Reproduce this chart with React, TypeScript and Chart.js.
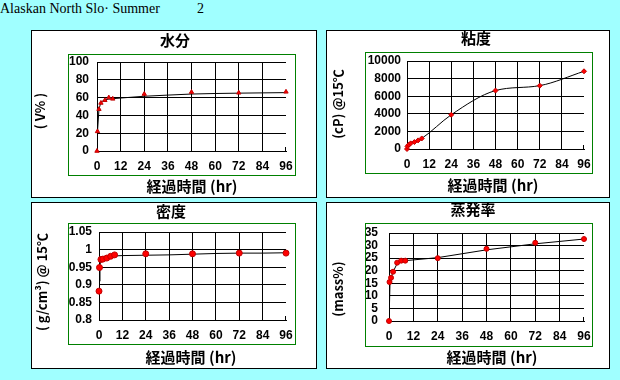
import React, { useEffect, useRef } from "react";
import { Chart, registerables } from "chart.js";

Chart.register(...registerables);

// ---------------- data ----------------
const HEADER_TEXT = "Alaskan North Slo\u00b7 Summer";
const HEADER_SUFFIX = "2";

const X_TITLE = "経過時間 (hr)";
const X_TICKS = [0, 12, 24, 36, 48, 60, 72, 84, 96];
const X_TICK_LABELS = ["0", "12", "24", "36", "48", "60", "72", "84", "96"];

const HOURS = [0, 0.25, 1, 2, 4, 6, 8, 24, 48, 72, 96];

// 水分
const WATER_TITLE = "水分";
const WATER_Y_TITLE = "( V% )";
const WATER = [0, 22, 47, 54, 57, 60, 58.6, 64, 66.2, 65.4, 66.5];
const WATER_FIT_HOURS = [0, 0.25, 1, 2, 4, 6, 8, 12, 24, 36, 48, 60, 72, 84, 96];
const WATER_FIT = [0, 22, 47, 55, 57.5, 58.3, 58.8, 59.5, 61.5, 62.8, 64, 64.6, 65, 65.3, 65.6];
const WATER_TICKS = [0, 20, 40, 60, 80, 100];
const WATER_TICK_LABELS = ["0", "20", "40", "60", "80", "100"];

// 粘度
const VISC_TITLE = "粘度";
const VISC_Y_TITLE = "(cP) @15℃";
const VISC = [0, 300, 490, 640, 790, 980, 1200, 3890, 6640, 7200, 8830];
const VISC_TICKS = [0, 2000, 4000, 6000, 8000, 10000];
const VISC_TICK_LABELS = ["0", "2000", "4000", "6000", "8000", "10000"];

// 密度
const DENS_TITLE = "密度";
const DENS_Y_TITLE = "( g/cm³) @ 15℃";
const DENS = [0.882, 0.949, 0.972, 0.973, 0.976, 0.981, 0.985, 0.988, 0.988, 0.99, 0.99];
const DENS_FIT_HOURS = [0.25, 0.5, 1, 2, 4, 8, 12, 24, 36, 48, 60, 72, 84, 96];
const DENS_FIT = [0.91, 0.955, 0.972, 0.975, 0.978, 0.982, 0.983, 0.984, 0.985, 0.987, 0.989, 0.99, 0.99, 0.991];
const DENS_TICKS = [0.8, 0.85, 0.9, 0.95, 1, 1.05];
const DENS_TICK_LABELS = ["0.8", "0.85", "0.9", "0.95", "1", "1.05"];

// 蒸発率
const EVAP_TITLE = "蒸発率";
const EVAP_Y_TITLE = "(mass%)";
const EVAP = [0, 15.5, 17.2, 19.6, 23.2, 24.0, 24.0, 25.0, 28.7, 31.1, 32.6];
const EVAP_FIT_HOURS = [0.25, 0.5, 1, 2, 4, 6, 8, 24, 48, 72, 96];
const EVAP_FIT = [7, 15.5, 17.2, 19.6, 22.8, 23.6, 24.0, 25.2, 28.3, 30.7, 32.6];
const EVAP_TICKS = [0, 5, 10, 15, 20, 25, 30, 35];
const EVAP_TICK_LABELS = ["0", "5", "10", "15", "20", "25", "30", "35"];

// ---------------- styling ----------------
const TICK_FONT = { family: "'Liberation Sans', Arial, sans-serif", weight: "bold" as const, size: 12 };
const CJK = "'Noto Sans CJK JP', 'Liberation Sans', sans-serif";

const decorPlugin = {
  id: "decor",
  afterDraw(chart: any, _args: any, opts: any) {
    const ctx = chart.ctx as CanvasRenderingContext2D;
    const { green, title, xTitle, yTitle } = opts;
    ctx.save();
    ctx.strokeStyle = "#008000";
    ctx.lineWidth = 1;
    ctx.strokeRect(green[0] + 0.5, green[1] + 0.5, green[2] - green[0], green[3] - green[1]);
    // small end tick on x axis
    const ca = chart.chartArea;
    const xe = Math.round(chart.scales.x.getPixelForValue(96)) - 0.5;
    ctx.strokeStyle = "#000";
    ctx.beginPath();
    ctx.moveTo(xe, Math.round(ca.bottom));
    ctx.lineTo(xe, Math.round(ca.bottom) - 4);
    ctx.stroke();

    ctx.fillStyle = "#000";
    ctx.textAlign = "center";
    ctx.textBaseline = "middle";
    ctx.font = `bold 15px ${CJK}`;
    ctx.fillText(title[0], title[1], title[2]);
    ctx.font = `bold 15px ${CJK}`;
    ctx.fillText(xTitle[0], xTitle[1], xTitle[2]);
    ctx.font = `bold 13px ${CJK}`;
    ctx.translate(yTitle[1], yTitle[2]);
    ctx.rotate(-Math.PI / 2);
    ctx.fillText(yTitle[0], 0, 0);
    ctx.restore();
  },
};

type PanelSpec = {
  left: number;
  top: number;
  width: number;
  height: number;
  area: { left: number; right: number; top: number; bottom: number };
  green: number[];
  title: string;
  titlePos: number[];
  xTitlePos: number[];
  yTitle: string;
  yTitlePos: number[];
  yPad: number;
  yTicks: number[];
  yLabels: string[];
  hours: number[];
  values: number[];
  fitHours?: number[];
  fitValues?: number[];
  pointStyle: string;
  pointRadius: number;
  smooth?: boolean;
};

function makeConfig(p: PanelSpec): any {
  const W = p.width - 2;
  const H = p.height - 2;
  const measured = p.hours.map((h, i) => ({ x: h, y: p.values[i] }));
  const datasets: any[] = [];
  datasets.push({
    data: measured,
    showLine: !!p.smooth,
    borderColor: "#000",
    borderWidth: 1,
    cubicInterpolationMode: p.smooth ? "monotone" : "default",
    tension: p.smooth ? 0.4 : 0,
    pointStyle: p.pointStyle,
    pointRadius: p.pointRadius,
    pointBackgroundColor: "#ff0000",
    pointBorderColor: "#c00000",
    pointBorderWidth: 1,
    clip: false,
    order: 0,
  });
  if (p.fitHours && p.fitValues) {
    const fv = p.fitValues;
    datasets.push({
      data: p.fitHours.map((h, i) => ({ x: h, y: fv[i] })),
      borderColor: "#000",
      borderWidth: 1,
      pointRadius: 0,
      tension: 0,
      fill: false,
      clip: false,
      order: 1,
    });
  }
  const yMin = p.yTicks[0];
  const yMax = p.yTicks[p.yTicks.length - 1];
  return {
    type: "line",
    data: { datasets },
    options: {
      animation: false,
      responsive: false,
      maintainAspectRatio: false,
      events: [],
      layout: { padding: { left: 0, top: p.area.top, right: W - p.area.right, bottom: 0 } },
      plugins: {
        legend: { display: false },
        tooltip: { enabled: false },
        title: { display: false },
        decor: {
          green: p.green,
          title: [p.title, p.titlePos[0], p.titlePos[1]],
          xTitle: [X_TITLE, p.xTitlePos[0], p.xTitlePos[1]],
          yTitle: [p.yTitle, p.yTitlePos[0], p.yTitlePos[1]],
        },
      },
      scales: {
        x: {
          type: "linear",
          position: "bottom",
          min: 0,
          max: 96,
          afterBuildTicks: (s: any) => {
            s.ticks = X_TICKS.map((v) => ({ value: v }));
          },
          afterFit: (s: any) => {
            s.height = H - p.area.bottom;
            s.paddingLeft = 0;
            s.paddingRight = 0;
            s.paddingTop = 0;
            s.paddingBottom = 0;
          },
          ticks: {
            callback: (_v: any, i: number) => X_TICK_LABELS[i],
            autoSkip: false,
            maxRotation: 0,
            minRotation: 0,
            padding: 8,
            color: "#000",
            font: TICK_FONT,
          },
          grid: {
            color: (c: any) => (c.tick && c.tick.value === 96 ? "rgba(0,0,0,0)" : "#000"),
            drawTicks: false,
            lineWidth: 1,
          },
          border: { display: true, color: "#000", width: 1 },
        },
        y: {
          type: "linear",
          position: "left",
          min: yMin,
          max: yMax,
          afterBuildTicks: (s: any) => {
            s.ticks = p.yTicks.map((v) => ({ value: v }));
          },
          afterFit: (s: any) => {
            s.width = p.area.left;
            s.paddingLeft = 0;
            s.paddingRight = 0;
            s.paddingTop = 0;
            s.paddingBottom = 0;
          },
          ticks: {
            callback: (_v: any, i: number) => p.yLabels[i],
            autoSkip: false,
            padding: p.yPad,
            color: "#000",
            font: TICK_FONT,
          },
          grid: { color: "#000", drawTicks: false, lineWidth: 1 },
          border: { display: true, color: "#000", width: 1 },
        },
      },
    },
    plugins: [decorPlugin],
  };
}

const PANELS: PanelSpec[] = [
  {
    left: 31, top: 30, width: 286, height: 168,
    area: { left: 65, right: 254, top: 31, bottom: 120 },
    green: [36, 23, 263, 144],
    title: WATER_TITLE, titlePos: [143, 9],
    xTitlePos: [160, 155],
    yTitle: WATER_Y_TITLE, yTitlePos: [8, 80],
    yPad: 8,
    yTicks: WATER_TICKS, yLabels: WATER_TICK_LABELS,
    hours: HOURS, values: WATER,
    fitHours: WATER_FIT_HOURS, fitValues: WATER_FIT,
    pointStyle: "triangle", pointRadius: 2.5,
  },
  {
    left: 326, top: 30, width: 284, height: 168,
    area: { left: 80, right: 257, top: 30, bottom: 118 },
    green: [38, 21, 265, 142],
    title: VISC_TITLE, titlePos: [149, 7],
    xTitlePos: [166, 154],
    yTitle: VISC_Y_TITLE, yTitlePos: [11, 73],
    yPad: 6,
    yTicks: VISC_TICKS, yLabels: VISC_TICK_LABELS,
    hours: HOURS, values: VISC,
    pointStyle: "rectRot", pointRadius: 2.5,
    smooth: true,
  },
  {
    left: 31, top: 202, width: 286, height: 167,
    area: { left: 67, right: 254, top: 29, bottom: 117 },
    green: [36, 20, 263, 141],
    title: DENS_TITLE, titlePos: [139, 8],
    xTitlePos: [159, 154],
    yTitle: DENS_Y_TITLE, yTitlePos: [10, 79],
    yPad: 7,
    yTicks: DENS_TICKS, yLabels: DENS_TICK_LABELS,
    hours: HOURS, values: DENS,
    fitHours: DENS_FIT_HOURS, fitValues: DENS_FIT,
    pointStyle: "circle", pointRadius: 3,
  },
  {
    left: 326, top: 202, width: 284, height: 167,
    area: { left: 62, right: 257, top: 30, bottom: 118 },
    green: [38, 20, 265, 143],
    title: EVAP_TITLE, titlePos: [146, 6],
    xTitlePos: [165, 154],
    yTitle: EVAP_Y_TITLE, yTitlePos: [11, 86],
    yPad: 11,
    yTicks: EVAP_TICKS, yLabels: EVAP_TICK_LABELS,
    hours: HOURS, values: EVAP,
    fitHours: EVAP_FIT_HOURS, fitValues: EVAP_FIT,
    pointStyle: "circle", pointRadius: 2.5,
  },
];

function Panel({ spec }: { spec: PanelSpec }) {
  const ref = useRef<HTMLCanvasElement>(null);
  useEffect(() => {
    if (!ref.current) return;
    const chart = new Chart(ref.current, makeConfig(spec));
    return () => chart.destroy();
  }, [spec]);
  const w = spec.width - 2;
  const h = spec.height - 2;
  return (
    <div
      style={{
        position: "absolute",
        left: spec.left,
        top: spec.top,
        width: spec.width,
        height: spec.height,
        boxSizing: "border-box",
        border: "1px solid #000",
        background: "#fff",
      }}
    >
      <canvas ref={ref} width={w} height={h} style={{ display: "block", width: w, height: h }} />
    </div>
  );
}

export default function App() {
  return (
    <div
      style={{
        position: "fixed",
        left: 0,
        top: 0,
        width: 620,
        height: 380,
        background: "#a0ffff",
        overflow: "hidden",
        fontFamily: "'Liberation Serif', 'Times New Roman', serif",
      }}
    >
      <div style={{ position: "absolute", left: 0, top: 1, fontSize: 14, lineHeight: "16px", whiteSpace: "pre", color: "#000" }}>
        {HEADER_TEXT}
      </div>
      <div style={{ position: "absolute", left: 197, top: 1, fontSize: 14, lineHeight: "16px", color: "#000" }}>
        {HEADER_SUFFIX}
      </div>
      {PANELS.map((p, i) => (
        <Panel key={i} spec={p} />
      ))}
    </div>
  );
}
